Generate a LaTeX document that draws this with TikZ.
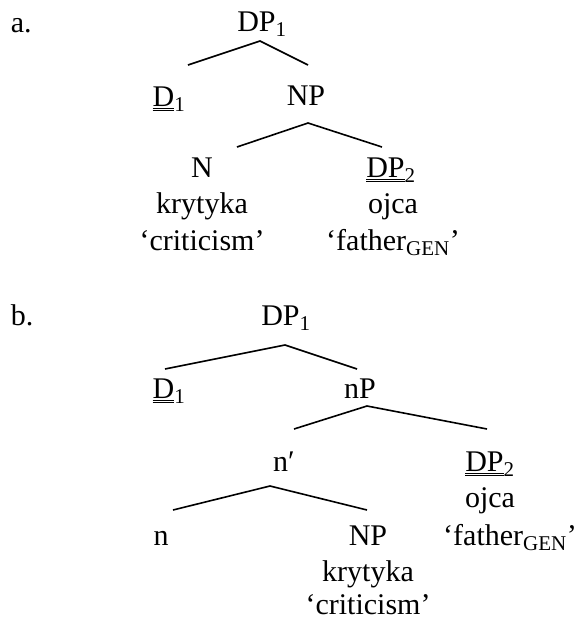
\documentclass[tikz,border=0pt]{standalone}
\usepackage{fontspec}
\setmainfont{Liberation Serif}
\usetikzlibrary{positioning}
% two thin rules under a category label
\newcommand\dunder[1]{\setbox0=\hbox{#1}%
\rlap{\rule[-2.6pt]{\wd0}{0.8pt}}\rlap{\rule[-5.2pt]{\wd0}{0.8pt}}\box0}

\begin{document}
\begin{tikzpicture}[x=1pt, y=-1pt, line width=1.6pt,
font=\fontsize{30}{36}\selectfont,
cat/.style={anchor=base, inner sep=0pt},
lbl/.style={anchor=base west, inner sep=0pt},
]
\useasboundingbox (0,0) rectangle (579,622);

%% (a)
\node[lbl] (a-lbl) at (10,32) {a.};
\node[cat] (a-DP1) at (262,31) {DP\textsubscript{1}};
\node[cat] (a-D1) at (169,106) {\dunder{D}\textsubscript{1}};
\node[cat] (a-NP) at (306,105) {NP};
\node[cat] (a-N) at (202,177) {N};
\node[cat] (a-kr) at (202,213) {krytyka};
\node[cat] (a-gl1) at (202,250) {`criticism'};
\node[cat] (a-DP2) at (391,177) {\dunder{DP}\textsubscript{2}};
\node[cat] (a-oj) at (393,213) {ojca};
\node[cat] (a-gl2) at (393,250) {`father\textsubscript{GEN}'};

\coordinate (a-j1) at (260,41);
\coordinate (a-l1) at (188,65);
\coordinate (a-r1) at (308,65);
\coordinate (a-j2) at (308,123);
\coordinate (a-l2) at (237,147);
\coordinate (a-r2) at (382,147);
\draw (a-l1) -- (a-j1) -- (a-r1);
\draw (a-l2) -- (a-j2) -- (a-r2);

%% (b)
\node[lbl] (b-lbl) at (10,325) {b.};
\node[cat] (b-DP1) at (286,325) {DP\textsubscript{1}};
\node[cat] (b-D1) at (169,398) {\dunder{D}\textsubscript{1}};
\node[cat] (b-nP) at (360,398) {nP};
\node[cat] (b-nbar) at (284,471) {n′};
\node[cat] (b-DP2) at (490,471) {\dunder{DP}\textsubscript{2}};
\node[cat] (b-oj) at (490,507) {ojca};
\node[cat] (b-gl2) at (510,545) {`father\textsubscript{GEN}'};
\node[cat] (b-n) at (161,545) {n};
\node[cat] (b-NP) at (368,545) {NP};
\node[cat] (b-kr) at (368,581) {krytyka};
\node[cat] (b-gl1) at (368,614) {`criticism'};

\coordinate (b-j1) at (285,345);
\coordinate (b-l1) at (165,369);
\coordinate (b-r1) at (357,369);
\coordinate (b-j2) at (367,406);
\coordinate (b-l2) at (294,429);
\coordinate (b-r2) at (487,429);
\coordinate (b-j3) at (270,486);
\coordinate (b-l3) at (173,510);
\coordinate (b-r3) at (367,510);
\draw (b-l1) -- (b-j1) -- (b-r1);
\draw (b-l2) -- (b-j2) -- (b-r2);
\draw (b-l3) -- (b-j3) -- (b-r3);
\end{tikzpicture}
\end{document}
